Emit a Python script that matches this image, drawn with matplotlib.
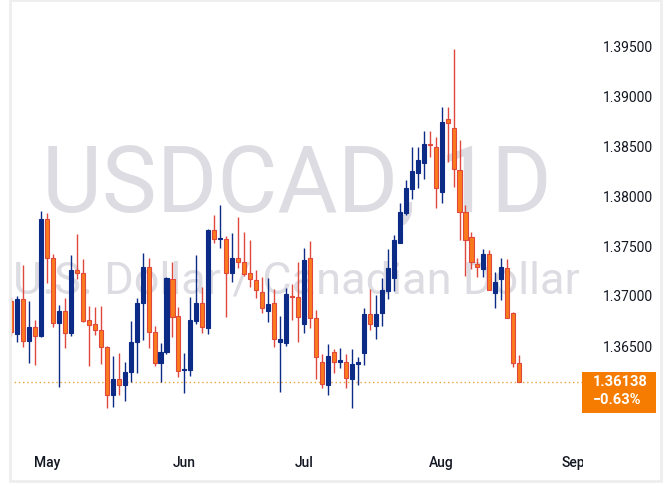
import matplotlib
matplotlib.use("Agg")
import matplotlib.pyplot as plt
from matplotlib.patches import Rectangle
from matplotlib.transforms import blended_transform_factory, Bbox, TransformedBbox

# daily candles, 23 Apr .. 20 Aug
opens = [1.3695, 1.3662, 1.3697, 1.3655, 1.3669, 1.3660, 1.3777, 1.3738, 1.3673, 1.3685,
         1.3663, 1.3726, 1.3723, 1.3676, 1.3672, 1.3666, 1.3649, 1.3601, 1.3617, 1.3611,
         1.3624, 1.3654, 1.3693, 1.3729, 1.3664, 1.3633, 1.3644, 1.3717, 1.3680, 1.3626,
         1.3626, 1.3675, 1.3693, 1.3668, 1.3766, 1.3757, 1.3757, 1.3723, 1.3738, 1.3734,
         1.3723, 1.3716, 1.3704, 1.3685, 1.3693, 1.3654, 1.3653, 1.3700, 1.3699, 1.3672,
         1.3738, 1.3678, 1.3634, 1.3611, 1.3644, 1.3634, 1.3634, 1.3617, 1.3632, 1.3643,
         1.3682, 1.3670, 1.3683, 1.3705, 1.3718, 1.3753, 1.3783, 1.3807, 1.3823, 1.3833,
         1.3852, 1.3849, 1.3804, 1.3877, 1.3868, 1.3826, 1.3784, 1.3759, 1.3732, 1.3727,
         1.3742, 1.3703, 1.3717, 1.3728, 1.3683, 1.3633]
highs = [1.3699, 1.3700, 1.3731, 1.3695, 1.3676, 1.3785, 1.3783, 1.3742, 1.3691, 1.3698,
         1.3741, 1.3762, 1.3737, 1.3690, 1.3689, 1.3690, 1.3650, 1.3640, 1.3643, 1.3634,
         1.3675, 1.3698, 1.3743, 1.3738, 1.3670, 1.3653, 1.3719, 1.3734, 1.3689, 1.3643,
         1.3699, 1.3741, 1.3709, 1.3767, 1.3781, 1.3791, 1.3760, 1.3763, 1.3779, 1.3764,
         1.3756, 1.3726, 1.3719, 1.3718, 1.3707, 1.3680, 1.3708, 1.3712, 1.3734, 1.3748,
         1.3755, 1.3686, 1.3642, 1.3652, 1.3647, 1.3648, 1.3642, 1.3647, 1.3639, 1.3688,
         1.3707, 1.3701, 1.3718, 1.3747, 1.3761, 1.3793, 1.3816, 1.3849, 1.3849, 1.3865,
         1.3865, 1.3859, 1.3889, 1.3889, 1.3947, 1.3856, 1.3791, 1.3764, 1.3738, 1.3747,
         1.3746, 1.3724, 1.3738, 1.3737, 1.3684, 1.3641]
lows = [1.3660, 1.3654, 1.3649, 1.3633, 1.3631, 1.3659, 1.3713, 1.3669, 1.3609, 1.3648,
        1.3660, 1.3717, 1.3674, 1.3630, 1.3661, 1.3632, 1.3588, 1.3589, 1.3601, 1.3595,
        1.3614, 1.3623, 1.3656, 1.3648, 1.3630, 1.3614, 1.3642, 1.3659, 1.3619, 1.3603,
        1.3620, 1.3672, 1.3663, 1.3662, 1.3753, 1.3748, 1.3679, 1.3714, 1.3728, 1.3720,
        1.3709, 1.3698, 1.3683, 1.3674, 1.3649, 1.3604, 1.3650, 1.3676, 1.3654, 1.3663,
        1.3668, 1.3617, 1.3608, 1.3601, 1.3623, 1.3628, 1.3608, 1.3588, 1.3611, 1.3631,
        1.3666, 1.3657, 1.3670, 1.3697, 1.3705, 1.3753, 1.3781, 1.3797, 1.3808, 1.3817,
        1.3839, 1.3788, 1.3793, 1.3834, 1.3809, 1.3756, 1.3720, 1.3727, 1.3719, 1.3719,
        1.3706, 1.3688, 1.3696, 1.3678, 1.3629, 1.36138]
closes = [1.3664, 1.3697, 1.3655, 1.3669, 1.3660, 1.3777, 1.3738, 1.3673, 1.3685, 1.3663,
          1.3726, 1.3723, 1.3675, 1.3671, 1.3666, 1.3649, 1.3601, 1.3617, 1.3611, 1.3624,
          1.3654, 1.3693, 1.3729, 1.3664, 1.3633, 1.3644, 1.3718, 1.3679, 1.3625, 1.3627,
          1.3676, 1.3693, 1.3669, 1.3766, 1.3757, 1.3758, 1.3723, 1.3738, 1.3734, 1.3722,
          1.3717, 1.3706, 1.3688, 1.3692, 1.3657, 1.3657, 1.3702, 1.3699, 1.3679, 1.3736,
          1.3678, 1.3639, 1.3612, 1.3640, 1.3634, 1.3636, 1.3618, 1.3632, 1.3634, 1.3682,
          1.3672, 1.3682, 1.3706, 1.3728, 1.3756, 1.3784, 1.3808, 1.3825, 1.3836, 1.3852,
          1.3851, 1.3808, 1.3874, 1.3873, 1.3827, 1.3784, 1.3756, 1.3734, 1.3729, 1.3742,
          1.3706, 1.3714, 1.3729, 1.3678, 1.3633, 1.36138]

month_pos = [6, 29, 49, 72, 94]
month_labels = ["May", "Jun", "Jul", "Aug", "Sep"]
price_ticks = [1.365, 1.370, 1.375, 1.380, 1.385, 1.390, 1.395]
change_text = "\u22120.63%"

UP = "#0c2b86"
DOWN = "#fb7a1c"
DOWN_EDGE = "#e0483d"
TEXT = "#131722"
FONT = "Roboto"

fig = plt.figure(figsize=(6.7, 4.87), dpi=100)
W, H = 670, 487
ax = fig.add_axes([10 / W, (H - 449) / H, 573 / W, 449 / H])
ax.set_facecolor("white")

# watermark
ax.text(0.5, 0.5256, "USDCAD, 1D", transform=ax.transAxes, ha="center", va="baseline",
        fontsize=66.5, color="#dcdce2", family=FONT, zorder=0)
ax.text(0.5, 0.347, "U.S. Dollar / Canadian Dollar", transform=ax.transAxes, ha="center",
        va="baseline", fontsize=32.5, color="#dcdce2", family=FONT, zorder=0)

x = list(range(len(opens)))
colors = [UP if c >= o else DOWN for o, c in zip(opens, closes)]
edges = [UP if c >= o else DOWN_EDGE for o, c in zip(opens, closes)]
bottoms = [min(o, c) for o, c in zip(opens, closes)]
heights = [max(abs(c - o), 0.00008) for o, c in zip(opens, closes)]

ax.vlines(x, lows, highs, colors=edges, linewidth=1, zorder=2)
ax.bar(x, heights, bottom=bottoms, width=0.68, color=colors, edgecolor=edges,
       linewidth=0.8, zorder=3)

last = closes[-1]
ax.axhline(last, color="#eea23c", linestyle=(0, (1, 2)), linewidth=1, zorder=1)

ax.set_xlim(-0.17, 95.65)
ax.set_ylim(1.3547, 1.3996)

for s in ax.spines.values():
    s.set_visible(False)

ax.yaxis.tick_right()
ax.set_yticks(price_ticks)
ax.set_yticklabels([f"{p:.5f}" for p in price_ticks])
ax.tick_params(axis="y", length=0, pad=14, labelsize=10, labelcolor=TEXT)
for lab in ax.get_yticklabels():
    lab.set_family(FONT)
ax.set_xticks([])

# month labels, clipped at the price scale like the original
clip = TransformedBbox(Bbox([[0, -1], [1, 1]]), ax.transAxes)
bx = blended_transform_factory(ax.transData, ax.transAxes)
for pos, lab in zip(month_pos, month_labels):
    t = ax.text(pos, -0.031, lab, transform=bx, ha="center", va="center", fontsize=10,
                color=TEXT, family=FONT, fontweight="medium", clip_on=True)
    t.set_clip_box(clip)

# last price label
by = blended_transform_factory(ax.transAxes, ax.transData)
ax.add_patch(Rectangle((1 - 1 / 573, last - 0.0031), 74 / 573, 0.0041, transform=by,
                       facecolor="#f57c00", edgecolor="none", clip_on=False, zorder=5))
ax.text(1 + 10 / 573, last, f"{last:.5f}", transform=by, ha="left", va="center",
        fontsize=10.5, color="white", family=FONT, fontweight="bold", zorder=6)
ax.text(1 + 10 / 573, last - 0.0018, change_text, transform=by, ha="left", va="center",
        fontsize=10.5, color="white", family=FONT, fontweight="bold", zorder=6)

# outer frame
fig.add_artist(Rectangle((9.5 / W, (H - 481) / H), 651 / W, 481 / H, transform=fig.transFigure,
                         facecolor="none", edgecolor="#eeeeee", linewidth=2))

fig.savefig("out.png", dpi=100)
